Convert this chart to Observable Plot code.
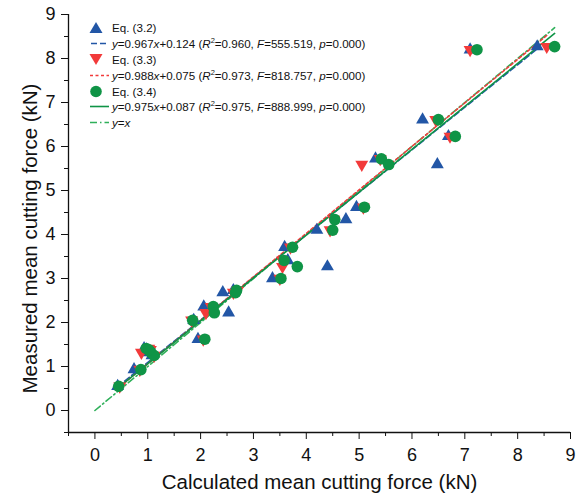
<!DOCTYPE html>
<html><head><meta charset="utf-8">
<script src="https://cdn.jsdelivr.net/npm/d3@7"></script>
<script src="https://cdn.jsdelivr.net/npm/@observablehq/plot@0.6"></script>
<style>
body{margin:0;background:#fff;font-family:"Liberation Sans",Arial,sans-serif;}
#wrap{position:relative;width:588px;height:496px;}
#legend{position:absolute;left:86px;top:20px;font-size:11.6px;color:#111;}
.row{display:flex;align-items:center;height:15.8px;white-space:nowrap;}
.row svg{width:26px;height:15px;flex:none;}
sup{font-size:7.5px;vertical-align:5px;line-height:0;}
</style></head><body><div id="wrap"></div>
<script>
// Measured mean cutting force (kN), one value per test
const measured = [0.55,0.93,1.41,1.32,1.25,1.38,1.62,2.05,2.36,2.22,2.68,2.73,3.00,3.41,3.27,3.71,4.10,4.34,4.62,5.72,5.59,6.61,6.23,8.20,8.27];
// Calculated mean cutting force (kN) for each equation
const calc32 = [0.43,0.74,0.93,1.00,1.08,0.98,1.95,1.87,2.06,2.53,2.42,2.62,3.36,3.65,4.40,3.59,4.20,4.75,4.95,5.31,6.48,6.20,6.69,7.10,8.37];
const calc33 = [0.47,0.85,1.02,0.88,1.12,1.05,2.05,1.83,2.20,2.10,2.62,2.70,3.50,3.55,3.55,3.70,4.45,4.52,5.08,5.40,5.05,6.45,6.72,7.10,8.55];
const calc34 = [0.45,0.87,0.97,1.06,1.12,1.02,2.08,1.85,2.24,2.26,2.66,2.68,3.52,3.58,3.83,3.74,4.50,4.54,5.10,5.42,5.56,6.50,6.82,7.23,8.70];
const seriesNames = ["Eq. (3.2)","Eq. (3.3)","Eq. (3.4)"];
const slopes = [0.967,0.988,0.975];
const intercepts = [0.124,0.075,0.087];
const r2 = ["0.960","0.973","0.975"];
const Fvals = ["555.519","818.757","888.999"];
const pvals = ["0.000","0.000","0.000"];
const xTicks = [0,1,2,3,4,5,6,7,8,9];
const yTicks = [0,1,2,3,4,5,6,7,8,9];
const minorTicks = [-0.5,0.5,1.5,2.5,3.5,4.5,5.5,6.5,7.5,8.5];
const xLabel = "Calculated mean cutting force (kN)";
const yLabel = "Measured mean cutting force (kN)";

const colors = {blue:"#2256a6", red:"#f23a3a", green:"#0f9446", green2:"#2fb05a"};
const dashes = ["6,3","3,2.5",null];

const allCalc = [calc32, calc33, calc34];
const pts = allCalc.map((c) => measured.map((y,i) => ({x:c[i], y})));
const fitLines = allCalc.map((c,k) => {
  const [a,b] = d3.extent(c);
  return [{x:a, y:slopes[k]*a+intercepts[k]}, {x:b, y:slopes[k]*b+intercepts[k]}];
});
const maxX = d3.max(allCalc.flat());
const identity = [{x:0,y:0},{x:maxX,y:maxX}];

const chart = Plot.plot({
  width:588, height:496,
  marginLeft:68, marginRight:18, marginTop:14, marginBottom:64,
  x:{domain:[-0.5,9]}, y:{domain:[-0.5,9]},
  style:{fontFamily:"'Liberation Sans', Arial, sans-serif", fontSize:"18px", color:"#111", background:"#fff"},
  marks:[
    Plot.axisX(xTicks, {tickSize:7, tickPadding:9, fontSize:18, label:null}),
    Plot.axisX(minorTicks, {tickSize:4, tickFormat:() => "", label:null}),
    Plot.axisY(yTicks, {tickSize:7, tickPadding:6, fontSize:18, label:null}),
    Plot.axisY(minorTicks, {tickSize:4, tickFormat:() => "", label:null}),
    Plot.text([xLabel], {frameAnchor:"bottom", textAnchor:"middle", lineAnchor:"middle", dy:50, fontSize:20.5, fill:"#111"}),
    Plot.text([yLabel], {frameAnchor:"left", textAnchor:"middle", lineAnchor:"middle", dx:-38, dy:15, rotate:-90, fontSize:20.5, fill:"#111"}),
    Plot.ruleY([-0.5], {stroke:"#111", strokeWidth:1.3}),
    Plot.ruleX([-0.5], {stroke:"#111", strokeWidth:1.3}),
    Plot.line(identity, {x:"x", y:"y", stroke:colors.green2, strokeWidth:1.6, strokeDasharray:"7,3,1.5,3"}),
    Plot.line(fitLines[0], {x:"x", y:"y", stroke:colors.blue, strokeWidth:1.6, strokeDasharray:dashes[0]}),
    Plot.line(fitLines[1], {x:"x", y:"y", stroke:colors.red, strokeWidth:1.5, strokeDasharray:dashes[1]}),
    Plot.line(fitLines[2], {x:"x", y:"y", stroke:colors.green, strokeWidth:1.6}),
    Plot.dot(pts[0], {x:"x", y:"y", symbol:"triangle", r:4.8, fill:colors.blue, stroke:"none"}),
    Plot.dot(pts[1], {x:"x", y:"y", symbol:"triangle", r:4.8, rotate:180, fill:colors.red, stroke:"none"}),
    Plot.dot(pts[2], {x:"x", y:"y", symbol:"circle", r:5.8, fill:colors.green, stroke:"none"})
  ]
});
const wrap = document.getElementById("wrap");
wrap.appendChild(chart);

// legend
const legend = document.createElement("div");
legend.id = "legend";
const symSvg = [
  `<svg><polygon points="10,2 16.5,13 3.5,13" fill="${colors.blue}"/></svg>`,
  `<svg><polygon points="10,13 16.5,2 3.5,2" fill="${colors.red}"/></svg>`,
  `<svg><circle cx="10" cy="7.5" r="5.8" fill="${colors.green}"/></svg>`
];
const lineSvg = [
  `<svg><line x1="5" x2="23" y1="7.5" y2="7.5" stroke="${colors.blue}" stroke-width="1.6" stroke-dasharray="6,3" stroke-dashoffset="-9"/></svg>`,
  `<svg><line x1="4" x2="23" y1="7.5" y2="7.5" stroke="${colors.red}" stroke-width="1.5" stroke-dasharray="3,2.5"/></svg>`,
  `<svg><line x1="4" x2="23" y1="7.5" y2="7.5" stroke="${colors.green}" stroke-width="1.6"/></svg>`
];
let html = "";
for (let k=0;k<3;k++){
  html += `<div class="row">${symSvg[k]}<span>${seriesNames[k]}</span></div>`;
  html += `<div class="row">${lineSvg[k]}<span><i>y</i>=${slopes[k].toFixed(3)}<i>x</i>+${intercepts[k].toFixed(3)} (<i>R</i><sup>2</sup>=${r2[k]}, <i>F</i>=${Fvals[k]}, <i>p</i>=${pvals[k]})</span></div>`;
}
html += `<div class="row"><svg><line x1="4" x2="23" y1="7.5" y2="7.5" stroke="${colors.green2}" stroke-width="1.6" stroke-dasharray="7,3,1.5,3"/></svg><span><i>y</i>=<i>x</i></span></div>`;
legend.innerHTML = html;
wrap.appendChild(legend);
</script>
</body></html>
